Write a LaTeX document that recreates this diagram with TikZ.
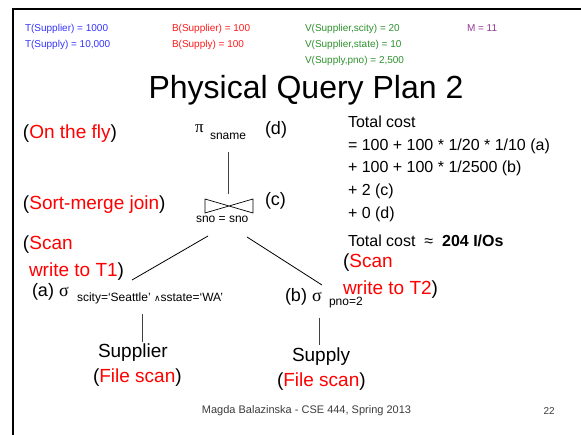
\documentclass[tikz,border=0pt]{standalone}
\usepackage{fontspec}
\setmainfont{Liberation Sans}
\newfontfamily\serifg{Liberation Serif}
\newfontfamily\symf{DejaVu Sans}
\definecolor{hblue}{RGB}{51,51,255}
\definecolor{hred}{RGB}{255,25,25}
\definecolor{hgreen}{RGB}{45,145,45}
\definecolor{hpurple}{RGB}{150,55,150}
\definecolor{lred}{RGB}{255,0,0}
\definecolor{footg}{RGB}{60,60,60}
\tikzset{
  txt/.style={anchor=base west, inner sep=0pt, outer sep=0pt},
  hdr/.style={txt, font=\fontsize{10}{12}\selectfont},
  big/.style={txt, font=\fontsize{19}{22}\selectfont},
  lbl/.style={txt, font=\fontsize{18}{22}\selectfont},
  sub/.style={txt, font=\fontsize{12}{14}\selectfont},
  cost/.style={txt, font=\fontsize{16}{19}\selectfont},
  edge/.style={draw=black!75, line width=0.8pt},
}
\newcommand{\rd}[1]{\textcolor{lred}{#1}}
\begin{document}
\begin{tikzpicture}[x=1pt,y=-1pt]
\useasboundingbox (0,0) rectangle (581,435);
% frame
\draw[line width=2pt] (13,435) -- (13,9) -- (581,9);
% header
\node[hdr, text=hblue] (t1) at (25,31.5) {T(Supplier) = 1000};
\node[hdr, text=hblue] (t2) at (25,47.5) {T(Supply) = 10,000};
\node[hdr, text=hred] (b1) at (172,31.5) {B(Supplier) = 100};
\node[hdr, text=hred] (b2) at (172,47.5) {B(Supply) = 100};
\node[hdr, text=hgreen] (v1) at (305,31.5) {V(Supplier,scity) = 20};
\node[hdr, text=hgreen] (v2) at (305,47.5) {V(Supplier,state) = 10};
\node[hdr, text=hgreen] (v3) at (305,63.5) {V(Supply,pno) = 2,500};
\node[hdr, text=hpurple] (m) at (467,31.5) {M = 11};
% title
\node[anchor=base, inner sep=0pt, font=\fontsize{32}{36}\selectfont] (title) at (306,99) {Physical Query Plan 2};
% left labels
\node[big] (fly) at (23,139) {(\rd{On the fly})};
\node[big] (smj) at (23,210) {(\rd{Sort-merge join})};
\node[big] (scan1) at (23,250) {(\rd{Scan}};
\node[big] (wr1) at (29,277) {\rd{write to T1})};
% projection
\node[txt, font=\serifg\fontsize{17}{20}\selectfont] (pi) at (195,133) {π};
\node[sub] (sname) at (210,140) {sname};
\node[lbl] (d) at (265,135) {(d)};
\coordinate (pibot) at (228,152);
\coordinate (jtop) at (228,194);
\draw[edge] (pibot) -- (jtop);
% join
\coordinate (jl) at (205,199);
\coordinate (jc) at (229,206);
\draw[line width=0.7pt] (205,199) -- (205,213) -- (253,199) -- (253,213) -- cycle;
\node[sub] (snoeq) at (196,223) {sno = sno};
\node[lbl] (c) at (265,206) {(c)};
\coordinate (jbl) at (208,236);
\coordinate (jbr) at (247,237);
\coordinate (atop) at (132,280);
\coordinate (btop) at (322,285);
\draw[edge, draw=black] (jbl) -- (atop);
\draw[edge, draw=black] (jbr) -- (btop);
% selection a
\node[lbl] (a) at (32,297) {(a) {\serifg σ}};
\node[sub] (asub) at (77,302) {scity=‘Seattle’ {\symf\fontsize{9}{10}\selectfont ∧}sstate=‘WA’};
\coordinate (abot) at (142,314);
\coordinate (suptop) at (142,342);
\draw[edge] (abot) -- (suptop);
\node[big] (supplier) at (98,358) {Supplier};
\node[big] (fs1) at (93,383) {(\rd{File scan})};
% selection b
\node[lbl] (b) at (285,302) {(b) {\serifg σ}};
\node[sub] (bsub) at (329,306) {pno=2};
\node[big] (scan2) at (343,268) {(\rd{Scan}};
\node[big] (wr2) at (343,295) {\rd{write to T2})};
\coordinate (bbot) at (319,318);
\coordinate (spytop) at (319,345);
\draw[edge] (bbot) -- (spytop);
\node[big] (supply) at (292,362) {Supply};
\node[big] (fs2) at (277,387) {(\rd{File scan})};
% cost
\node[cost] (c1) at (348,127.5) {Total cost};
\node[cost] (c2) at (348,150.5) {= 100 + 100 * 1/20 * 1/10 (a)};
\node[cost] (c3) at (348,172.5) {+ 100 + 100 * 1/2500 (b)};
\node[cost] (c4) at (348,195.5) {+ 2 (c)};
\node[cost] (c5) at (348,218.5) {+ 0 (d)};
\node[cost] (c6) at (348,246.5) {Total cost \ ≈ \ \textbf{204 I/Os}};
% footer
\node[anchor=base, inner sep=0pt, font=\fontsize{11}{13}\selectfont, text=footg] (foot) at (306.5,413.5) {Magda Balazinska - CSE 444, Spring 2013};
\node[anchor=base east, inner sep=0pt, font=\fontsize{10}{12}\selectfont, text=footg] (pg) at (555,414) {22};
\end{tikzpicture}
\end{document}
